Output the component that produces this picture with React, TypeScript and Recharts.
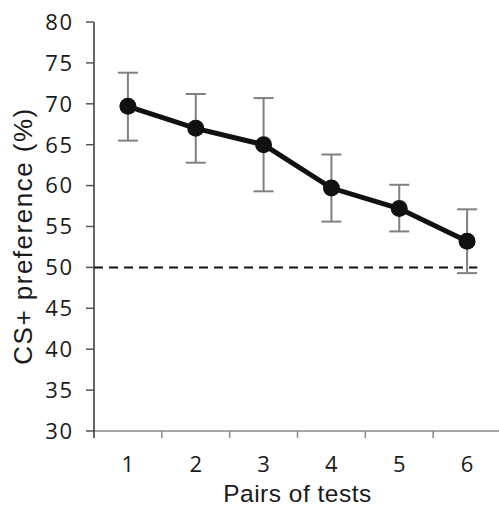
import React from 'react'
import { LineChart, Line, XAxis, YAxis, ErrorBar, ReferenceLine } from 'recharts'

const pairs = [1, 2, 3, 4, 5, 6]
const means = [69.7, 67.0, 65.0, 59.7, 57.2, 53.2]
const upper = [73.8, 71.2, 70.7, 63.8, 60.1, 57.1]
const lower = [65.5, 62.8, 59.3, 55.6, 54.4, 49.3]
const yTicks = [30, 35, 40, 45, 50, 55, 60, 65, 70, 75, 80]
const chance = 50

const W = 510
const H = 507
const MARGIN = { top: 22, right: 9, bottom: 0, left: 0 }
const Y_W = 94
const HALF = (W - MARGIN.right - Y_W) / pairs.length / 2

const data = pairs.map((p, i) => ({
  pair: p,
  pref: means[i],
  err: [means[i] - lower[i], upper[i] - means[i]],
}))

const tickFont = '"Open Sans", sans-serif'
const labelFont = '"Liberation Sans", Arial, sans-serif'

function PairTick(props: any) {
  const { x, y, payload, index } = props
  const last = index === pairs.length - 1
  return (
    <g>
      <line x1={x - HALF} x2={x - HALF} y1={y} y2={y + 7} stroke={index === 0 ? '#333' : '#888'} strokeWidth={1.5} />
      {last && <line x1={x + HALF} x2={x + HALF} y1={y} y2={y + 7} stroke="#888" strokeWidth={1.5} />}
      <text x={x} y={y + 41} textAnchor="middle" fontSize={22} fontFamily={tickFont} fill="#1a1a1a">
        {payload.value}
      </text>
    </g>
  )
}

function YTitle() {
  return (
    <text
      transform="translate(32, 236) rotate(-90)"
      x={0}
      y={0}
      textAnchor="middle"
      fontSize={26}
      fontFamily={labelFont}
      fill="#1a1a1a"
      letterSpacing={1.5}
    >
      CS+ preference (%)
    </text>
  )
}

export default function App() {
  return (
    <div style={{ position: 'absolute', left: 0, top: 0, width: 499, height: 507, overflow: 'hidden', background: '#fff' }}>
      <LineChart width={W} height={H} data={data} margin={MARGIN}>
        <XAxis
          dataKey="pair"
          type="number"
          domain={[0.5, 6.5]}
          ticks={pairs}
          height={76}
          tickSize={0}
          tickMargin={0}
          tickLine={false}
          axisLine={{ stroke: '#888', strokeWidth: 1.5 }}
          tick={<PairTick />}
          interval={0}
          label={{
            value: 'Pairs of tests',
            position: 'insideBottom',
            offset: 5,
            fontSize: 24.5,
            fontFamily: labelFont,
            fill: '#1a1a1a',
            letterSpacing: 0.5,
          }}
        />
        <YAxis
          type="number"
          domain={[30, 80]}
          ticks={yTicks}
          width={Y_W}
          tickSize={8}
          tickMargin={12.5}
          interval={0}
          axisLine={{ stroke: '#333', strokeWidth: 1.5 }}
          tickLine={{ stroke: '#555', strokeWidth: 1.5 }}
          tick={{ fontSize: 22, fontFamily: tickFont, fill: '#1a1a1a', letterSpacing: 1.5 }}
          label={<YTitle />}
        />
        <ReferenceLine
          segment={[{ x: 0.5, y: chance }, { x: 6.15, y: chance }]}
          stroke="#111"
          strokeWidth={2}
          strokeDasharray="9 6"
        />
        <Line
          dataKey="pref"
          stroke="#111"
          strokeWidth={5}
          dot={{ r: 8.5, fill: '#111', stroke: '#111', strokeWidth: 0 }}
          activeDot={false}
          isAnimationActive={false}
        >
          <ErrorBar dataKey="err" direction="y" width={10} strokeWidth={2} stroke="#808080" />
        </Line>
      </LineChart>
    </div>
  )
}
